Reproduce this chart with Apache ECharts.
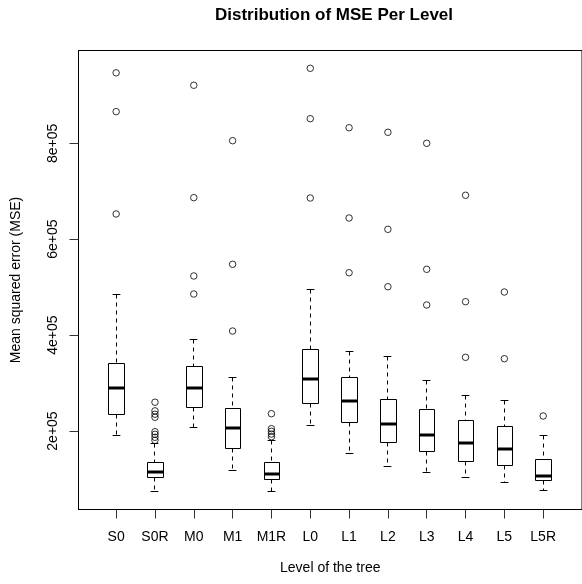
<!DOCTYPE html>
<html>
<head>
<meta charset="utf-8">
<script src="https://cdn.jsdelivr.net/npm/echarts@6/dist/echarts.min.js"></script>
<style>
html,body{margin:0;padding:0;background:#fff;}
#chart{width:582px;height:584px;}
</style>
</head>
<body>
<div id="chart"></div>
<script>
// ---- data ----
const categories = ['S0','S0R','M0','M1','M1R','L0','L1','L2','L3','L4','L5','L5R'];
const whiskerLow  = [189600, 72800, 208300, 118000, 72800, 212500, 154100, 127000, 114500, 102600, 92200, 76300];
const q1          = [233400, 102600, 249400, 163900, 99300, 256900, 217300, 175600, 156800, 137400, 129100, 96400];
const median      = [289000, 114500, 290300, 206300, 110300, 309100, 262600, 214600, 191700, 174300, 162500, 106800];
const q3          = [341200, 133900, 334900, 246500, 133900, 370400, 311200, 266100, 245300, 221500, 209000, 141000];
const whiskerHigh = [485100, 174300, 390400, 312000, 179800, 496100, 364800, 355800, 304900, 274500, 262600, 189600];
const outliers = [
  [947000, 866000, 652600],
  [260000, 242000, 235000, 228600, 198500, 193100, 186900, 180600],
  [921000, 686600, 523300, 485700],
  [805400, 547700, 408500],
  [236100, 204800, 199400, 193700, 188100],
  [956400, 851300, 685900],
  [832500, 644200, 530100],
  [822900, 620600, 500900],
  [800000, 537200, 462800],
  [691600, 469700, 353700],
  [489900, 350800],
  [231300]
];
const yTicks = [200000, 400000, 600000, 800000];
const yTickLabels = ['2e+05', '4e+05', '6e+05', '8e+05'];

// ---- build series data ----
const boxData = categories.map((c, i) => [i + 1, whiskerLow[i], q1[i], median[i], q3[i], whiskerHigh[i]]);
const outlierData = [];
outliers.forEach((arr, i) => arr.forEach(v => outlierData.push([i + 1, v])));
const xPositions = categories.map((c, i) => i + 1);

const FONT = '"Liberation Sans", Arial, Helvetica, sans-serif';
const chart = echarts.init(document.getElementById('chart'), null, {renderer: 'canvas'});

function px(v) { return Math.round(v - 0.5) + 0.5; }

const option = {
  backgroundColor: '#ffffff',
  animation: false,
  title: {
    text: 'Distribution of MSE Per Level',
    left: 329,
    top: 2,
    textAlign: 'center',
    textStyle: {fontFamily: FONT, fontSize: 17, fontWeight: 'bold', color: '#000'}
  },
  grid: {
    left: 78.5, top: 50.5, width: 512.1, height: 459,
    show: true, borderColor: '#000', borderWidth: 1, backgroundColor: 'transparent'
  },
  xAxis: {
    type: 'value', min: 0.03, max: 13.0,
    name: 'Level of the tree', nameLocation: 'middle', nameGap: 52,
    nameTextStyle: {fontFamily: FONT, fontSize: 14, color: '#000'},
    splitLine: {show: false},
    axisLine: {show: true, onZero: false, lineStyle: {color: '#000', width: 1}},
    axisTick: {show: true, inside: false, length: 9, customValues: xPositions, lineStyle: {color: '#333'}},
    axisLabel: {
      customValues: xPositions, margin: 21,
      fontFamily: FONT, fontSize: 14, color: '#000',
      formatter: v => categories[Math.round(v) - 1] || ''
    }
  },
  yAxis: {
    type: 'value', min: 36300, max: 993500,
    name: 'Mean squared error (MSE)', nameLocation: 'middle', nameGap: 55, nameRotate: 90,
    nameTextStyle: {fontFamily: FONT, fontSize: 14, color: '#000'},
    splitLine: {show: false},
    axisLine: {show: true, onZero: false, lineStyle: {color: '#000', width: 1}},
    axisTick: {show: true, inside: false, length: 9, customValues: yTicks, lineStyle: {color: '#333'}},
    axisLabel: {
      customValues: yTicks, rotate: 90, margin: 18,
      fontFamily: FONT, fontSize: 14, color: '#000',
      formatter: v => yTickLabels[yTicks.indexOf(v)] || ''
    }
  },
  series: [
    {
      type: 'custom',
      data: boxData,
      encode: {x: 0, y: [1, 2, 3, 4, 5]},
      clip: false,
      renderItem: function (params, api) {
        const x = api.value(0);
        const low = api.coord([x, api.value(1)]);
        const b1 = api.coord([x, api.value(2)]);
        const med = api.coord([x, api.value(3)]);
        const b3 = api.coord([x, api.value(4)]);
        const high = api.coord([x, api.value(5)]);
        const halfW = api.size([0.4, 0])[0] / 2;
        const stapleHalf = halfW / 2;
        const cx = px(low[0]);
        const left = Math.round(low[0] - halfW) + 0.5;
        const right = Math.round(low[0] + halfW) + 0.5;
        const yLow = px(low[1]), y1 = px(b1[1]), yMed = Math.round(med[1]), y3 = px(b3[1]), yHigh = px(high[1]);
        const thin = {stroke: '#000', lineWidth: 1, fill: null};
        const dashed = {stroke: '#000', lineWidth: 1, lineDash: [4, 4], fill: null};
        return {
          type: 'group',
          children: [
            {type: 'line', shape: {x1: cx, y1: yHigh, x2: cx, y2: y3}, style: dashed},
            {type: 'line', shape: {x1: cx, y1: y1, x2: cx, y2: yLow}, style: dashed},
            {type: 'line', shape: {x1: cx - stapleHalf, y1: yHigh, x2: cx + stapleHalf, y2: yHigh}, style: thin},
            {type: 'line', shape: {x1: cx - stapleHalf, y1: yLow, x2: cx + stapleHalf, y2: yLow}, style: thin},
            {type: 'rect', shape: {x: left, y: y3, width: right - left, height: y1 - y3}, style: {stroke: '#000', lineWidth: 1, fill: '#fff'}},
            {type: 'line', shape: {x1: left, y1: yMed, x2: right, y2: yMed}, style: {stroke: '#000', lineWidth: 3}}
          ]
        };
      }
    },
    {
      type: 'scatter',
      data: outlierData,
      symbol: 'circle',
      symbolSize: 6.5,
      itemStyle: {color: 'transparent', borderColor: '#000', borderWidth: 1}
    }
  ]
};
chart.setOption(option);
</script>
</body>
</html>
